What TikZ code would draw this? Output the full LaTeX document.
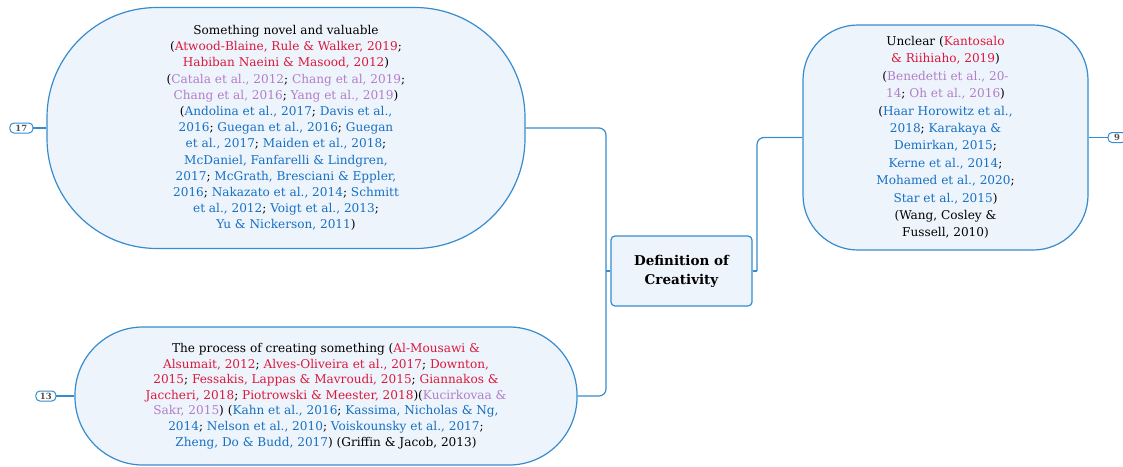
\documentclass[tikz,border=0pt]{standalone}
\usepackage{tikz}
\usepackage{xcolor}
\usepackage{fontspec}
\setmainfont{DejaVu Serif}
\usetikzlibrary{positioning, calc}
\definecolor{mapline}{RGB}{55, 140, 205}
\definecolor{mapfill}{RGB}{238, 244, 252}
\definecolor{refred}{RGB}{218, 25, 60}
\definecolor{refpurple}{RGB}{178, 125, 200}
\definecolor{refblue}{RGB}{22, 112, 195}
\definecolor{badgetext}{RGB}{80, 80, 80}
\newcommand{\rd}[1]{\textcolor{refred}{#1}}
\newcommand{\pu}[1]{\textcolor{refpurple}{#1}}
\newcommand{\bl}[1]{\textcolor{refblue}{#1}}
\tikzset{
  topicbox/.style={rectangle, rounded corners=#1, draw=mapline, fill=mapfill,
                   line width=1.2pt, align=center, inner sep=0pt},
  topicbox/.default=20pt,
  rootbox/.style={rectangle, rounded corners=4pt, draw=mapline, fill=mapfill,
                  line width=1.2pt, align=center, minimum width=141pt, minimum height=70pt,
                  font=\fontsize{13.5}{19}\selectfont\bfseries},
  badge/.style={rectangle, rounded corners=4pt, draw=mapline, fill=white, line width=1pt,
                text=badgetext, inner sep=0pt, minimum height=10pt,
                font=\fontsize{8.5}{8.5}\selectfont\bfseries},
  conn/.style={draw=mapline, line width=1.2pt, rounded corners=7pt},
}

\begin{document}
\begin{tikzpicture}[x=1pt, y=-1pt]
  \useasboundingbox (0,0) rectangle (1123,466);

  \node[rootbox] (creativity) at (681.5,271) {Definition of\\Creativity};

  \node[topicbox=110pt, minimum width=478pt, minimum height=241pt,
        font=\fontsize{12.1}{16.2}\selectfont] (novel) at (286,128)
       {Something novel and valuable\\
        (\rd{Atwood-Blaine, Rule \& Walker, 2019};\\
        \rd{Habiban Naeini \& Masood, 2012})\\
        (\pu{Catala et al., 2012}; \pu{Chang et al, 2019};\\
        \pu{Chang et al, 2016}; \pu{Yang et al., 2019})\\
        (\bl{Andolina et al., 2017}; \bl{Davis et al.,}\\
        \bl{2016}; \bl{Guegan et al., 2016}; \bl{Guegan}\\
        \bl{et al., 2017}; \bl{Maiden et al., 2018};\\
        \bl{McDaniel, Fanfarelli \& Lindgren,}\\
        \bl{2017}; \bl{McGrath, Bresciani \& Eppler,}\\
        \bl{2016}; \bl{Nakazato et al., 2014}; \bl{Schmitt}\\
        \bl{et al., 2012}; \bl{Voigt et al., 2013};\\
        \bl{Yu \& Nickerson, 2011})};

  \node[topicbox=55pt, minimum width=285pt, minimum height=225pt,
        font=\fontsize{12.1}{17.4}\selectfont] (unclear) at (945.5,137.5)
       {Unclear (\rd{Kantosalo}\\
        \rd{\& Riihiaho, 2019})\\
        (\pu{Benedetti et al., 20-}\\
        \pu{14}; \pu{Oh et al., 2016})\\
        (\bl{Haar Horowitz et al.,}\\
        \bl{2018}; \bl{Karakaya \&}\\
        \bl{Demirkan, 2015};\\
        \bl{Kerne et al., 2014};\\
        \bl{Mohamed et al., 2020};\\
        \bl{Star et al., 2015})\\
        (Wang, Cosley \&\\
        Fussell, 2010)};

  \node[topicbox=68pt, minimum width=502pt, minimum height=138pt,
        font=\fontsize{12.1}{15.6}\selectfont] (process) at (326,396)
       {The process of creating something (\rd{Al-Mousawi \&}\\
        \rd{Alsumait, 2012}; \rd{Alves-Oliveira et al., 2017}; \rd{Downton,}\\
        \rd{2015}; \rd{Fessakis, Lappas \& Mavroudi, 2015}; \rd{Giannakos \&}\\
        \rd{Jaccheri, 2018}; \rd{Piotrowski \& Meester, 2018})(\pu{Kucirkovaa \&}\\
        \pu{Sakr, 2015}) (\bl{Kahn et al., 2016}; \bl{Kassima, Nicholas \& Ng,}\\
        \bl{2014}; \bl{Nelson et al., 2010}; \bl{Voiskounsky et al., 2017};\\
        \bl{Zheng, Do \& Budd, 2017}) (Griffin \& Jacob, 2013)};

  \node[badge, minimum width=23pt, left=13pt of novel] (cnt17) {17};
  \node[badge, minimum width=20pt, left=18pt of process] (cnt13) {13};
  \node[badge, minimum width=18pt, right=19pt of unclear] (cnt9) {9};

  \coordinate (ltrunk) at (606,271);
  \coordinate (rtrunk) at (757,271);

  \draw[conn] (novel.east) -| (ltrunk) |- (process.east);
  \draw[conn, sharp corners] (creativity.west) -- (ltrunk);
  \draw[conn, sharp corners] (creativity.east) -- (rtrunk);
  \draw[conn] (rtrunk) |- (unclear.west);

  \draw[conn] (cnt17) -- (novel);
  \draw[conn] (cnt13) -- (process);
  \draw[conn] (unclear) -- (cnt9);
\end{tikzpicture}
\end{document}
